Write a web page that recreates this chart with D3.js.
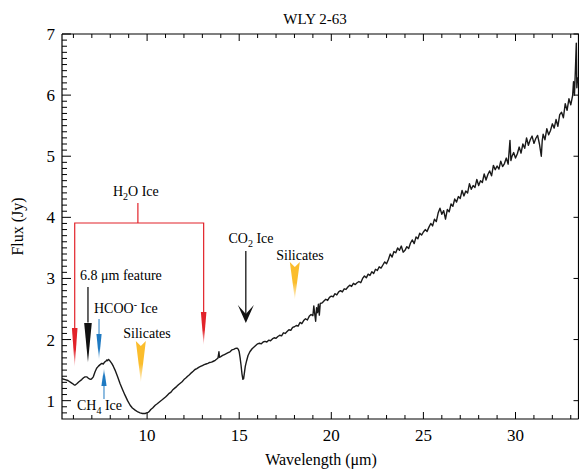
<!DOCTYPE html>
<html>
<head>
<meta charset="utf-8">
<script src="https://cdn.jsdelivr.net/npm/d3@7"></script>
<style>
  body { margin: 0; background: #fff; }
  svg { display: block; font-family: "Liberation Serif", "Times New Roman", serif; }
</style>
</head>
<body>
<div id="chart"></div>
<script>
// Spectrum of WLY 2-63
const wavelength = [
  5.38, 5.55, 5.7, 5.85, 5.95, 6.05, 6.1, 6.2, 6.3, 6.45, 6.55, 6.63, 6.72, 6.8, 6.9, 6.98,
  7.08, 7.17, 7.26, 7.36, 7.45, 7.54, 7.62, 7.69, 7.76, 7.81, 7.86, 7.9, 7.96, 8.08, 8.17, 8.26,
  8.4, 8.53, 8.67, 8.8, 8.94, 9.08, 9.2, 9.35, 9.5, 9.62, 9.75, 9.89, 9.98, 10.05, 10.11, 10.2,
  10.3, 10.44, 10.55, 10.65, 10.8,
  10.9, 11.0, 11.1, 11.2, 11.3, 11.4, 11.5, 11.6, 11.7, 11.8, 11.9, 12.0, 12.1, 12.2, 12.3, 12.4,
  12.5, 12.6, 12.7, 12.8, 12.9, 13.0, 13.1, 13.2, 13.3, 13.4, 13.5, 13.6, 13.7, 13.8, 13.85, 13.9,
  13.93, 14.0, 14.1, 14.2, 14.3, 14.4, 14.5, 14.6, 14.7, 14.8, 14.88, 14.95, 15.0, 15.05, 15.1,
  15.15, 15.2, 15.24, 15.28, 15.33, 15.4, 15.48, 15.58, 15.7, 15.85,
  16.0, 16.1, 16.2, 16.3, 16.4, 16.5, 16.6, 16.7, 16.8, 16.9,
  17.0, 17.1, 17.2, 17.3, 17.4, 17.5, 17.6, 17.7, 17.8, 17.9,
  18.0, 18.1, 18.2, 18.3, 18.4, 18.5, 18.6, 18.7, 18.8, 18.9,
  19.0, 19.05, 19.1, 19.15, 19.2, 19.25, 19.3, 19.35, 19.4,
  19.5, 19.6, 19.7, 19.8, 19.9, 20.0, 20.1, 20.2, 20.3, 20.4,
  20.5, 20.6, 20.7, 20.8, 20.9, 21.0, 21.1, 21.2, 21.3, 21.4,
  21.5, 21.6, 21.7, 21.8, 21.9, 22.0, 22.1, 22.2, 22.3, 22.4,
  22.5, 22.6, 22.7, 22.8, 22.9, 23.0, 23.1, 23.2, 23.3, 23.4,
  23.5, 23.6, 23.7, 23.8, 23.9, 24.0, 24.1, 24.2, 24.3, 24.4,
  24.5, 24.6, 24.7, 24.8, 24.9, 25.0, 25.1, 25.2, 25.3, 25.4,
  25.5, 25.6, 25.7, 25.8, 25.9, 26.0, 26.1, 26.2, 26.3, 26.4,
  26.5, 26.6, 26.7, 26.8, 26.9, 27.0, 27.1, 27.2, 27.3, 27.4,
  27.5, 27.6, 27.7, 27.8, 27.9, 28.0, 28.1, 28.2, 28.3, 28.4,
  28.5, 28.6, 28.7, 28.8, 28.9, 29.0, 29.1, 29.2, 29.3, 29.4,
  29.5, 29.6, 29.7, 29.75, 29.8, 29.9,
  30.0, 30.1, 30.2, 30.3, 30.4, 30.5, 30.6, 30.7, 30.8, 30.9,
  31.0, 31.1, 31.2, 31.3, 31.4, 31.45,
  31.5, 31.6, 31.7, 31.8, 31.9, 32.0, 32.1, 32.2, 32.3, 32.4,
  32.5, 32.6, 32.7, 32.8, 32.9, 33.0, 33.1,
  33.15, 33.2, 33.25, 33.3, 33.33, 33.37, 33.42
];
const flux = [
  1.36, 1.345, 1.33, 1.30, 1.28, 1.255, 1.255, 1.28, 1.31, 1.345, 1.375, 1.39, 1.39, 1.37, 1.35, 1.355,
  1.39, 1.47, 1.53, 1.565, 1.59, 1.61, 1.60, 1.63, 1.645, 1.665, 1.655, 1.675, 1.66, 1.61, 1.56, 1.50,
  1.39, 1.28, 1.18, 1.09, 1.00, 0.925, 0.88, 0.845, 0.815, 0.80, 0.79, 0.79, 0.80, 0.81, 0.82, 0.855,
  0.88, 0.925, 0.95, 0.975, 1.01,
  1.035, 1.06, 1.09, 1.12, 1.14, 1.18, 1.205, 1.23, 1.26, 1.285, 1.31, 1.345, 1.37, 1.40, 1.425, 1.455,
  1.48, 1.51, 1.525, 1.545, 1.56, 1.575, 1.59, 1.60, 1.61, 1.625, 1.63, 1.645, 1.66, 1.685, 1.70, 1.80,
  1.71, 1.72, 1.74, 1.755, 1.77, 1.785, 1.80, 1.83, 1.84, 1.855, 1.86, 1.84, 1.80, 1.70, 1.58,
  1.44, 1.35, 1.36, 1.45, 1.56, 1.65, 1.74, 1.80, 1.85, 1.89,
  1.93, 1.94, 1.93, 1.96, 1.97, 1.96, 1.99, 1.98, 2.01, 2.03,
  2.02, 2.05, 2.07, 2.06, 2.11, 2.10, 2.13, 2.16, 2.15, 2.20,
  2.21, 2.23, 2.22, 2.28, 2.26, 2.31, 2.34, 2.32, 2.38, 2.41,
  2.39, 2.55, 2.42, 2.30, 2.52, 2.44, 2.58, 2.40, 2.59,
  2.60, 2.63, 2.66, 2.64, 2.69, 2.71, 2.70, 2.75, 2.73, 2.78,
  2.80, 2.78, 2.83, 2.82, 2.86, 2.89, 2.87, 2.92, 2.90, 2.93,
  2.95, 2.93, 3.00, 3.04, 3.01, 3.07, 3.05, 3.11, 3.08, 3.15,
  3.13, 3.19, 3.17, 3.22, 3.27, 3.24, 3.31, 3.40, 3.35, 3.44,
  3.42, 3.50, 3.46, 3.53, 3.43, 3.46, 3.52, 3.49, 3.58, 3.63,
  3.57, 3.68, 3.65, 3.74, 3.71, 3.76, 3.80, 3.77, 3.84, 3.90,
  3.86, 3.97, 3.93, 4.07, 4.15, 4.05, 4.11, 3.97, 4.13, 4.09,
  4.22, 4.18, 4.30, 4.25, 4.34, 4.31, 4.44, 4.35, 4.43, 4.40,
  4.55, 4.46, 4.52, 4.49, 4.62, 4.52, 4.60, 4.57, 4.71, 4.61,
  4.70, 4.76, 4.68, 4.85, 4.78, 4.84, 4.79, 4.92, 4.83, 4.88,
  4.97, 4.87, 5.26, 4.93, 4.99, 5.06,
  4.97, 5.04, 5.15, 5.05, 5.20, 5.13, 5.30, 5.18, 5.27, 5.33,
  5.21, 5.29, 5.34, 5.20, 5.00, 5.25,
  5.36, 5.27, 5.45, 5.35, 5.42, 5.53, 5.46, 5.60, 5.49, 5.68,
  5.72, 5.63, 5.86, 5.75, 5.94, 5.84, 5.99,
  6.22, 6.00, 6.40, 6.85, 6.12, 6.28, 6.20
];

const xDomain = [5.38, 33.42];
const yDomain = [0.7, 7];
const xMajorTicks = [10, 15, 20, 25, 30];
const yMajorTicks = [1, 2, 3, 4, 5, 6, 7];

const width = 579, height = 470;
const margin = { top: 34, right: 0.5, bottom: 51, left: 62 };

const svg = d3.select('#chart').append('svg')
  .attr('width', width)
  .attr('height', height);

const x = d3.scaleLinear().domain(xDomain).range([margin.left, width - margin.right]);
const y = d3.scaleLinear().domain(yDomain).range([height - margin.bottom, margin.top]);

const x0 = x.range()[0], x1 = x.range()[1];
const y0 = y.range()[0], y1 = y.range()[1];

// minor tick values
const xMinor = d3.range(6, 34, 1).filter(v => v % 5 !== 0);
const yMinor = d3.range(8, 70, 1).map(v => v / 10).filter(v => Math.abs(v - Math.round(v)) > 1e-6);

const axisG = svg.append('g').attr('stroke', '#000').attr('stroke-width', 1);

// bottom / top ticks (inward)
[[y0, -1], [y1, 1]].forEach(([yy, dir]) => {
  axisG.selectAll(null).data(xMajorTicks).enter().append('line')
    .attr('x1', d => x(d)).attr('x2', d => x(d))
    .attr('y1', yy).attr('y2', yy + dir * 7);
  axisG.selectAll(null).data(xMinor).enter().append('line')
    .attr('x1', d => x(d)).attr('x2', d => x(d))
    .attr('y1', yy).attr('y2', yy + dir * 4);
});

// left ticks
axisG.selectAll(null).data(yMajorTicks).enter().append('line')
  .attr('x1', x0).attr('x2', x0 + 9)
  .attr('y1', d => y(d)).attr('y2', d => y(d));
axisG.selectAll(null).data(yMinor).enter().append('line')
  .attr('x1', x0).attr('x2', x0 + 5)
  .attr('y1', d => y(d)).attr('y2', d => y(d));

// right ticks (major only)
axisG.selectAll(null).data(yMajorTicks).enter().append('line')
  .attr('x1', x1).attr('x2', x1 - 5)
  .attr('y1', d => y(d)).attr('y2', d => y(d));

// frame
svg.append('path')
  .attr('d', `M${x0},${y1}V${y0}H${x1}M${x0},${y1}H${x1}V${y0}`)
  .attr('fill', 'none')
  .attr('stroke', '#000')
  .attr('stroke-width', 1.2);

// tick labels
svg.append('g').selectAll('text').data(xMajorTicks).enter().append('text')
  .attr('x', d => x(d)).attr('y', y0 + 22)
  .attr('text-anchor', 'middle')
  .attr('font-size', 17)
  .text(d => d);

svg.append('g').selectAll('text').data(yMajorTicks).enter().append('text')
  .attr('x', x0 - 7).attr('y', d => y(d) + 6)
  .attr('text-anchor', 'end')
  .attr('font-size', 17)
  .text(d => d);

// axis titles
svg.append('text')
  .attr('x', 321).attr('y', 465)
  .attr('text-anchor', 'middle')
  .attr('font-size', 16)
  .text('Wavelength (μm)');

svg.append('text')
  .attr('transform', `translate(23,${(y0 + y1) / 2}) rotate(-90)`)
  .attr('text-anchor', 'middle')
  .attr('font-size', 16)
  .text('Flux (Jy)');

svg.append('text')
  .attr('x', 315).attr('y', 24)
  .attr('text-anchor', 'middle')
  .attr('font-size', 15)
  .text('WLY 2-63');

// spectrum
const pts = wavelength.map((w, i) => [w, flux[i]]);
svg.append('clipPath').attr('id', 'clip')
  .append('rect').attr('x', x0).attr('y', y1).attr('width', x1 - x0).attr('height', y0 - y1);

svg.append('path')
  .datum(pts)
  .attr('clip-path', 'url(#clip)')
  .attr('fill', 'none')
  .attr('stroke', '#1a1a1a')
  .attr('stroke-width', 1.4)
  .attr('stroke-linejoin', 'round')
  .attr('d', d3.line().x(d => x(d[0])).y(d => y(d[1])));

// gradients for coloured arrowheads (solid at base, fading to tip)
const defs = svg.append('defs');
function fadeGradient(id, color, down) {
  const g = defs.append('linearGradient').attr('id', id)
    .attr('x1', 0).attr('x2', 0).attr('y1', down ? 0 : 1).attr('y2', down ? 1 : 0);
  g.append('stop').attr('offset', '0%').attr('stop-color', color);
  g.append('stop').attr('offset', '55%').attr('stop-color', color);
  g.append('stop').attr('offset', '100%').attr('stop-color', color).attr('stop-opacity', 0.15);
}
const red = '#e2232a', blue = '#1f7ac2', yellow = '#fbbd2c';
fadeGradient('gRed', red, true);
fadeGradient('gBlue', blue, true);
fadeGradient('gBlueUp', blue, false);
fadeGradient('gYellow', yellow, true);

const ann = svg.append('g');

function label(px, py, parts, anchor, size) {
  const t = ann.append('text').attr('x', px).attr('y', py)
    .attr('text-anchor', anchor || 'middle').attr('font-size', size || 14);
  parts.forEach(p => {
    if (typeof p === 'string') t.append('tspan').text(p);
    else t.append('tspan').attr('font-size', p.size).attr('dy', p.dy).text(p.t);
  });
  return t;
}

// H2O ice bracket: features at 6.0 and 13 μm
const h2oL = x(6.07), h2oR = x(13.07), h2oC = x(9.5), bracketY = y(3.907);
ann.append('path')
  .attr('d', `M${h2oL},${y(2.19)}V${bracketY}H${h2oR}V${y(2.45)}M${h2oC},${bracketY}V${y(4.235)}`)
  .attr('fill', 'none').attr('stroke', red).attr('stroke-width', 1.2);
[[h2oL, y(2.19), y(1.55)], [h2oR, y(2.45), y(1.91)]].forEach(([cx, top, tip]) => {
  ann.append('path')
    .attr('d', `M${cx - 2.8},${top}L${cx + 2.8},${top}L${cx},${tip}Z`)
    .attr('fill', 'url(#gRed)');
});
label(h2oC - 2, y(4.349), ['H', { t: '2', size: 10, dy: 4 }, { t: 'O Ice', dy: -4 }]);

// 6.8 μm feature
const f68 = x(6.79);
ann.append('line').attr('x1', f68).attr('x2', f68).attr('y1', y(2.86)).attr('y2', y(2.28))
  .attr('stroke', '#000').attr('stroke-width', 1.2);
ann.append('path')
  .attr('d', `M${f68 - 3.8},${y(2.27)}L${f68 + 3.8},${y(2.27)}L${f68},${y(1.63)}Z`)
  .attr('fill', '#111');
label(80, y(2.975), ['6.8 μm feature'], 'start');

// HCOO- ice
const fh = x(7.39);
ann.append('line').attr('x1', fh).attr('x2', fh).attr('y1', y(2.336)).attr('y2', y(2.09))
  .attr('stroke', blue).attr('stroke-width', 1);
ann.append('path')
  .attr('d', `M${fh - 2.6},${y(2.09)}L${fh + 2.6},${y(2.09)}L${fh},${y(1.665)}Z`)
  .attr('fill', 'url(#gBlue)');
label(94, y(2.435), ['HCOO', { t: '-', size: 10, dy: -5 }, { t: ' Ice', dy: 5 }], 'start');

// CH4 ice (arrow pointing up)
const fc = x(7.66);
ann.append('line').attr('x1', fc).attr('x2', fc).attr('y1', y(1.24)).attr('y2', y(1.027))
  .attr('stroke', blue).attr('stroke-width', 1);
ann.append('path')
  .attr('d', `M${fc - 2.6},${y(1.24)}L${fc + 2.6},${y(1.24)}L${fc},${y(1.535)}Z`)
  .attr('fill', 'url(#gBlueUp)');
label(77, y(0.85), ['CH', { t: '4', size: 10, dy: 4 }, { t: ' Ice', dy: -4 }], 'start');

// silicates (notched yellow darts)
function dart(w, top, tip) {
  const cx = x(w), t = y(top), b = y(tip);
  ann.append('path')
    .attr('d', `M${cx - 5},${t}L${cx},${t + 5}L${cx + 5},${t}L${cx},${b}Z`)
    .attr('fill', 'url(#gYellow)');
}
dart(9.66, 1.975, 1.30);
label(147, y(2.02), ['Silicates']);
dart(18.02, 3.27, 2.66);
label(300, y(3.31), ['Silicates']);

// CO2 ice
const fco = x(15.36);
ann.append('line').attr('x1', fco).attr('x2', fco).attr('y1', y(3.449)).attr('y2', y(2.42))
  .attr('stroke', '#000').attr('stroke-width', 1.2);
ann.append('path')
  .attr('d', `M${fco - 8},${y(2.565)}L${fco},${y(2.27)}L${fco + 8},${y(2.565)}L${fco},${y(2.42)}Z`)
  .attr('fill', '#111');
label(251, y(3.58), ['CO', { t: '2', size: 10, dy: 4 }, { t: ' Ice', dy: -4 }]);
</script>
</body>
</html>
